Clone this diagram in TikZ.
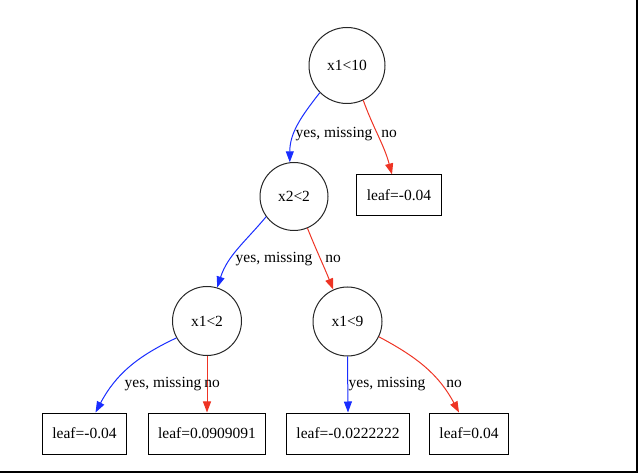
\documentclass[tikz,border=0pt]{standalone}
\usepackage{fontspec}
\setmainfont{Liberation Serif}
\usetikzlibrary{arrows.meta}
\definecolor{eblue}{RGB}{25,45,255}
\definecolor{ered}{RGB}{238,52,36}
\tikzset{
  split/.style={circle,draw=black!85,line width=1pt,inner sep=0pt,minimum size=69pt},
  leafbox/.style={rectangle,draw=black,line width=1pt,inner xsep=10pt,minimum height=41pt},
  yesedge/.style={draw=eblue,line width=1pt,-{Triangle[length=11pt,width=8pt]}},
  noedge/.style={draw=ered,line width=1pt,-{Triangle[length=11pt,width=8pt]}},
  elabel/.style={inner sep=0pt}
}
\begin{document}
\begin{tikzpicture}[x=1pt,y=-1pt,font=\fontsize{15.5}{18}\selectfont]
\useasboundingbox (0,0) rectangle (638,473);
\fill[black] (636,0) rectangle (638,473);
\fill[black] (0,471) rectangle (638,473);
% split nodes
\node[split,minimum size=76pt] (root) at (347,65.5) {x1<10};
\node[split,minimum size=68pt] (x2) at (294,196.5) {x2<2};
\node[split] (xa) at (207,321) {x1<2};
\node[split] (xb) at (347.5,321.5) {x1<9};
% leaves
\node[leafbox] (lt) at (399,195.5) {leaf=-0.04};
\node[leafbox] (la) at (84.5,433.5) {leaf=-0.04};
\node[leafbox] (lb) at (207,433.5) {leaf=0.0909091};
\node[leafbox] (lc) at (348,433.5) {leaf=-0.0222222};
\node[leafbox] (ld) at (469,433.5) {leaf=0.04};
% edges
\draw[yesedge] (root.225) to[out=232,in=90] (x2.97);
\draw[noedge] (root.-65) to[out=-70,in=105] ([xshift=-7pt]lt.north);
\draw[yesedge] (x2.216) to[out=230,in=72] (xa.73);
\draw[noedge] (x2.-67) to[out=-68,in=112] (xb.114);
\draw[yesedge] (xa.209) to[out=205,in=62] ([xshift=11pt]la.north);
\draw[noedge] (xa.south) -- (lb.north);
\draw[yesedge] (xb.south) -- (lc.north);
\draw[noedge] (xb.-26) to[out=-28,in=118] ([xshift=-10pt]ld.north);
% edge labels
\node[elabel] (e1y) at (334,134) {yes, missing};
\node[elabel] (e1n) at (389,134) {no};
\node[elabel] (e2y) at (274,259) {yes, missing};
\node[elabel] (e2n) at (333,259) {no};
\node[elabel] (e3y) at (163,384) {yes, missing};
\node[elabel] (e3n) at (212,384) {no};
\node[elabel] (e4y) at (387,384) {yes, missing};
\node[elabel] (e4n) at (454,384) {no};
\end{tikzpicture}
\end{document}
